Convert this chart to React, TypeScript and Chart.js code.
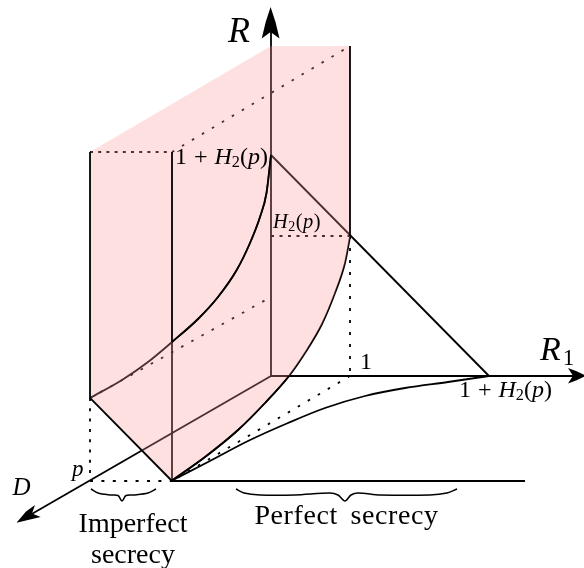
import React, { useEffect, useRef } from "react";
import { Chart, registerables } from "chart.js";

Chart.register(...registerables);

type P = [number, number];

// Diagram space: x 0..584, y 0..568 (downwards), mapped by the chart's linear scales.
const rAxis: P[] = [[271, 376], [271, 30]];
const r1Axis: P[] = [[271, 376], [576, 376]];
const dAxis: P[] = [[271, 376], [30, 515]];
const rHead: P[] = [[270.6, 7], [275.5, 22], [279.5, 38.5], [270.6, 32], [261.7, 38.5], [265.7, 22]];
const r1Head: P[] = [[586, 375.7], [576, 371], [568, 368], [573, 375.7], [568, 383.5], [576, 380.5]];
const dHead: P[] = [[16.5, 522.7], [26, 511.5], [35, 505], [32, 513.5], [40.7, 517], [28, 520]];

const surfaceCurve: P[] = [[172, 480.5], [205, 457], [238, 430], [265, 403], [289, 376], [305, 353], [322, 324], [335, 293], [345, 263], [350, 237]];
const sheetOutline: P[] = [[172, 481], [90, 398], [90, 152], [271, 46], [350, 46]];
const leftCurve: P[] = [[90, 398], [122, 380], [148, 362], [172, 342], [198, 319], [218, 297], [236.7, 270], [250, 243], [260, 217], [266.5, 193], [271, 155]];
const lowerCurve: P[] = [[172, 480.5], [208, 462], [248, 441], [288, 423], [325, 408], [365, 396], [405, 388], [448, 382], [489, 376]];

const frontLines: P[][] = [
  [[90, 152], [90, 398], [172, 481]],
  [[172, 152], [172, 342]],
  [[350, 46], [350, 236]],
];
const backLines: P[][] = [
  [[172, 342], [172, 481], [525, 481]],
  [[271, 155], [489, 376]],
];
const dottedLines: { pts: P[]; dash: number[] }[] = [
  { pts: [[90, 152], [172, 152]], dash: [3, 5.2] },
  { pts: [[172, 152], [350, 46]], dash: [2.6, 9] },
  { pts: [[271, 236], [350, 236]], dash: [3, 5.5] },
  { pts: [[350, 236], [350, 376]], dash: [3, 9] },
  { pts: [[350, 376], [172, 481]], dash: [2.6, 9] },
  { pts: [[90, 398], [90, 481]], dash: [3, 7.3] },
  { pts: [[90, 481], [172, 481]], dash: [3, 8.4] },
  { pts: [[90, 398], [271, 297]], dash: [2.6, 9] },
];
const imperfectBrace: P[] = [[91, 489], [98, 493], [110, 495], [118, 495.5], [122, 501], [126, 495.5], [134, 495], [148, 493], [156, 489]];
const perfectBrace: P[] = [[236, 489], [244, 493], [260, 495], [295, 495], [330, 493], [338, 495], [345, 501], [351, 495], [358, 493], [380, 495], [430, 495], [447, 493], [457, 489]];

type Run = { t: string; it?: boolean; sub?: boolean; gap?: number };
const onePlusH: Run[] = [{ t: "1", gap: 7 }, { t: "+", gap: 7 }, { t: "H", it: true }, { t: "2", sub: true }, { t: "(" }, { t: "p", it: true }, { t: ")" }];
const justH: Run[] = [{ t: "H", it: true, gap: 0.5 }, { t: "2", sub: true, gap: 0.5 }, { t: "(", gap: 0.5 }, { t: "p", it: true, gap: 0.5 }, { t: ")" }];
const mathLabels: { x: number; y: number; size: number; runs: Run[] }[] = [
  { x: 228, y: 41.5, size: 36, runs: [{ t: "R", it: true }] },
  { x: 540, y: 360, size: 34, runs: [{ t: "R", it: true, gap: 2 }, { t: "1", sub: true }] },
  { x: 12.5, y: 495, size: 25, runs: [{ t: "D", it: true }] },
  { x: 72, y: 476, size: 23, runs: [{ t: "p", it: true }] },
  { x: 360, y: 369, size: 24, runs: [{ t: "1" }] },
  { x: 175, y: 163.5, size: 24, runs: onePlusH },
  { x: 459, y: 397, size: 24, runs: onePlusH },
  { x: 273, y: 228, size: 20.5, runs: justH },
];
const textLabels: { x: number; y: number; t: string; ws: number; ls: number }[] = [
  { x: 133, y: 532, t: "Imperfect", ws: 0, ls: 0 },
  { x: 133, y: 563, t: "secrecy", ws: 0, ls: 0 },
  { x: 346.5, y: 524, t: "Perfect secrecy", ws: 5, ls: 0.6 },
];

const SERIF = '"Liberation Serif", serif';
const FRONT = 0;
const SHEET = 1;
const BACK = 5;
const leftFrontFromX = 172;
const surfaceFrontToX = 289;

const toXY = (pts: P[]) => pts.map(([x, y]) => ({ x, y }));

const line = (pts: P[], o: any = {}) => ({
  data: toXY(pts),
  showLine: true,
  pointRadius: 0,
  borderColor: "#000",
  borderWidth: 1.8,
  borderCapStyle: "butt",
  tension: 0,
  fill: false,
  order: BACK,
  ...o,
});

const curve = (pts: P[], o: any = {}) => line(pts, { cubicInterpolationMode: "monotone", ...o });

const shape = (pts: P[], o: any = {}) => ({
  data: toXY(pts),
  showLine: true,
  pointRadius: 0,
  borderWidth: 0,
  borderColor: "rgba(0,0,0,0)",
  backgroundColor: "#000",
  tension: 0,
  fill: "shape",
  order: BACK,
  ...o,
});

const textPlugin = {
  id: "diagramText",
  afterDatasetsDraw(chart: any) {
    const { ctx, scales } = chart;
    ctx.save();
    ctx.fillStyle = "#000";
    ctx.textBaseline = "alphabetic";
    for (const l of mathLabels) {
      let px = scales.x.getPixelForValue(l.x);
      const py = scales.y.getPixelForValue(l.y);
      for (const r of l.runs) {
        const size = r.sub ? l.size * 0.68 : l.size;
        ctx.font = `${r.it ? "italic " : ""}${size}px ${SERIF}`;
        ctx.textAlign = "left";
        ctx.fillText(r.t, px, py + (r.sub ? l.size * 0.14 : 0));
        px += ctx.measureText(r.t).width + (r.gap ?? 0);
      }
    }
    for (const l of textLabels) {
      ctx.font = `28px ${SERIF}`;
      ctx.textAlign = "center";
      ctx.letterSpacing = `${l.ls}px`;
      ctx.wordSpacing = `${l.ws}px`;
      ctx.fillText(l.t, scales.x.getPixelForValue(l.x), scales.y.getPixelForValue(l.y));
    }
    ctx.restore();
  },
};

export default function App() {
  const ref = useRef<HTMLCanvasElement>(null);
  useEffect(() => {
    const chart = new Chart(ref.current!, {
      type: "scatter",
      plugins: [textPlugin],
      data: {
        datasets: [
          ...frontLines.map((p) => line(p, { order: FRONT })),
          // The same curves again above the sheet, only on the stretch that lies in front of it.
          curve(leftCurve, {
            order: FRONT,
            segment: { borderColor: (c: any) => (c.p0.parsed.x >= leftFrontFromX ? "#000" : "rgba(0,0,0,0)") },
          }),
          curve(surfaceCurve, {
            order: FRONT,
            segment: { borderColor: (c: any) => (c.p1.parsed.x <= surfaceFrontToX ? "#000" : "rgba(0,0,0,0)") },
          }),
          // Translucent sheet: the back lines show through it, the front lines stay on top.
          shape([...[...surfaceCurve].reverse(), ...sheetOutline], {
            backgroundColor: "rgba(255,151,151,0.3)",
            order: SHEET,
          }),
          line(rAxis),
          line(r1Axis),
          line(dAxis),
          shape(rHead),
          shape(r1Head),
          shape(dHead),
          curve(surfaceCurve),
          curve(leftCurve),
          curve(lowerCurve),
          ...backLines.map((p) => line(p)),
          ...dottedLines.map((d) => line(d.pts, { borderDash: d.dash })),
          line(imperfectBrace, { borderWidth: 1.5, tension: 0.3 }),
          line(perfectBrace, { borderWidth: 1.5, tension: 0.3 }),
        ],
      },
      options: {
        responsive: false,
        animation: false,
        layout: { padding: 0 },
        plugins: { legend: { display: false }, tooltip: { enabled: false }, title: { display: false } },
        scales: {
          x: { type: "linear", min: 0, max: 584, display: false },
          y: { type: "linear", min: 0, max: 568, reverse: true, display: false },
        },
      },
    } as any);
    return () => chart.destroy();
  }, []);
  return (
    <div style={{ position: "fixed", left: 0, top: 0, width: 584, height: 568, background: "#fff" }}>
      <canvas ref={ref} width={584} height={568} style={{ display: "block" }} />
    </div>
  );
}
